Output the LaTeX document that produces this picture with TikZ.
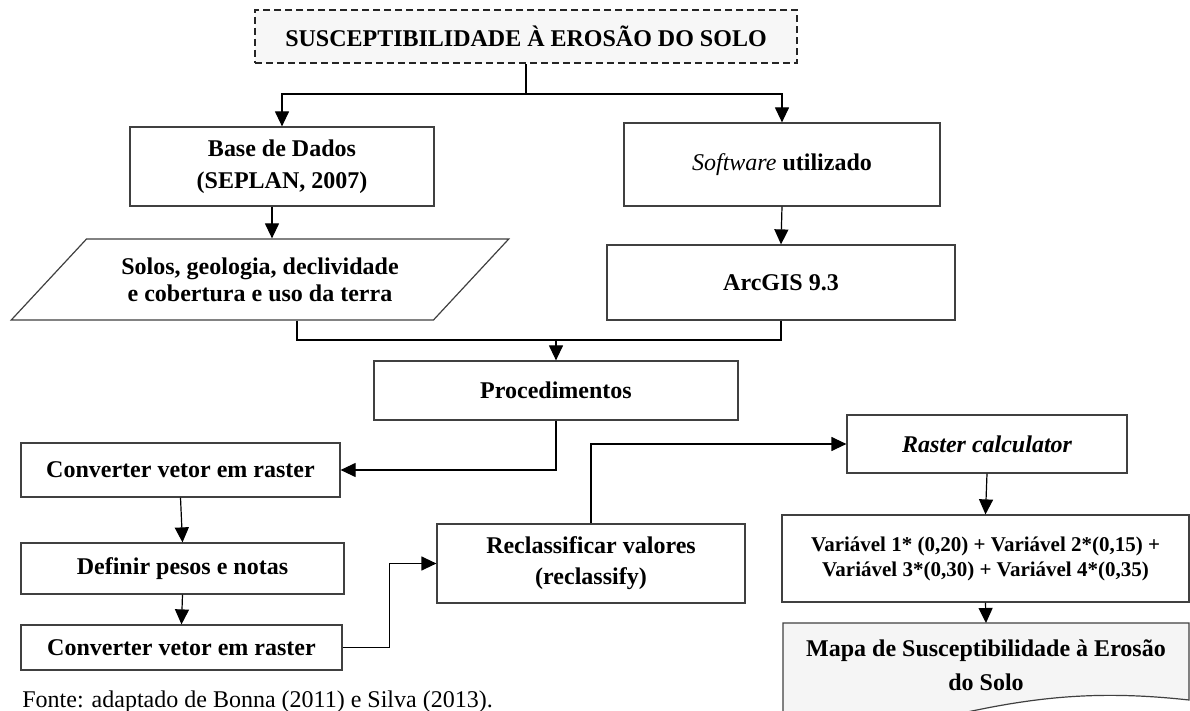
\documentclass[tikz,border=0pt]{standalone}
\usepackage{fontspec}
\setmainfont{Liberation Serif}
\usetikzlibrary{arrows.meta,shapes.geometric}

\begin{document}
\begin{tikzpicture}[x=0.5pt,y=-0.5pt,
    box/.style={draw=black!75,line width=0.6pt,fill=white,align=center,
      font=\fontsize{12}{14.4}\selectfont\bfseries,inner sep=2pt},
    arr/.style={line width=0.6pt,-{Triangle[length=7.5pt,width=7pt]}},
    wire/.style={line width=0.6pt}]
  \useasboundingbox (0,0) rectangle (1190,711);

  % topo
  \node[box,draw=black!85,line width=1.1pt,dash pattern=on 3.5pt off 2pt,
    fill=gray!6,minimum width=271pt,minimum height=26.5pt] (title) at (526,36.5)
    {SUSCEPTIBILIDADE À EROSÃO DO SOLO};
  \coordinate (split) at (526,94);

  % ramo dos dados
  \node[box,minimum width=152pt,minimum height=39.5pt,
    font=\fontsize{12}{16}\selectfont\bfseries] (base) at (282,166.5)
    {Base de Dados\\(SEPLAN, 2007)};
  \node[box,trapezium,trapezium left angle=40,trapezium right angle=140,
    trapezium stretches=true,minimum width=249pt,minimum height=40.5pt,
    font=\fontsize{12}{13.5}\selectfont\bfseries] (solos) at (260,279.5)
    {Solos, geologia, declividade\\e cobertura e uso da terra};

  % ramo do software
  \node[box,minimum width=158pt,minimum height=41.5pt] (soft) at (782,164.5)
    {\textmd{\itshape Software} utilizado};
  \node[box,minimum width=174pt,minimum height=37.5pt] (arcgis) at (781,282.5)
    {ArcGIS 9.3};

  \coordinate (merge) at (556,340);
  \node[box,minimum width=182pt,minimum height=29.5pt] (proc) at (556,390.5)
    {Procedimentos};

  % coluna da esquerda
  \node[box,minimum width=159.5pt,minimum height=27pt] (conv1) at (180.5,470)
    {Converter vetor em raster};
  \node[box,minimum width=161.5pt,minimum height=25.5pt] (def) at (182.5,568.5)
    {Definir pesos e notas};
  \node[box,minimum width=160.5pt,minimum height=22.5pt] (conv2) at (181.5,647.5)
    {Converter vetor em raster};

  \node[box,minimum width=154pt,minimum height=39.5pt,
    font=\fontsize{12}{15.5}\selectfont\bfseries] (recl) at (591,563.5)
    {Reclassificar valores\\(reclassify)};

  % coluna da direita
  \node[box,minimum width=140pt,minimum height=29pt,
    font=\fontsize{12}{14.4}\selectfont\bfseries\itshape]
    (raster) at (987,444) {Raster calculator};
  \node[box,minimum width=203.5pt,minimum height=43.5pt,
    font=\fontsize{10.5}{12.5}\selectfont\bfseries] (formula) at (985.5,558.5)
    {Variável 1* (0,20) + Variável 2*(0,15) +\\Variável 3*(0,30) + Variável 4*(0,35)};

  \fill[gray!8] (783,623) -- (1189,623) -- (1189,700)
    .. controls (1080,688) and (1010,700) .. (900,728) -- (783,728) -- cycle;
  \draw[draw=black!75,line width=0.6pt] (783,728) -- (783,623) -- (1189,623)
    -- (1189,700) .. controls (1080,688) and (1010,700) .. (900,728);
  \coordinate (maptop) at (986,623);
  \node[align=center,font=\fontsize{12}{17}\selectfont\bfseries] (mapa)
    at (986,665) {Mapa de Susceptibilidade à Erosão\\do Solo};

  \node[anchor=west,inner sep=0pt,font=\fontsize{12}{14.4}\selectfont] (fonte)
    at (22,702) {Fonte: adaptado de Bonna (2011) e Silva (2013).};

  % conectores
  \draw[wire] (title.south) -- (split);
  \draw[arr] (split) -| (base.north);
  \draw[arr] (split) -| (soft.north);
  \draw[arr] ([xshift=-5pt]base.south) -- ([xshift=-5pt]base.south |- solos.north);
  \draw[arr] (soft.south) -- (arcgis.north);
  \draw[wire] ([xshift=18.5pt]solos.south) |- (merge);
  \draw[wire] (arcgis.south) |- (merge);
  \draw[arr] (merge) -- (proc.north);
  \draw[arr] (proc.south) |- (conv1.east);
  \draw[arr] (conv1.south) -- (def.north);
  \draw[arr] (def.south) -- (conv2.north);
  \draw[arr] (conv2.east) -- ++(23.5pt,0) |- (recl.west);
  \draw[arr] (recl.north) |- (raster.west);
  \draw[arr] (raster.south) -- (formula.north);
  \draw[arr] (formula.south) -- (maptop);
\end{tikzpicture}
\end{document}
